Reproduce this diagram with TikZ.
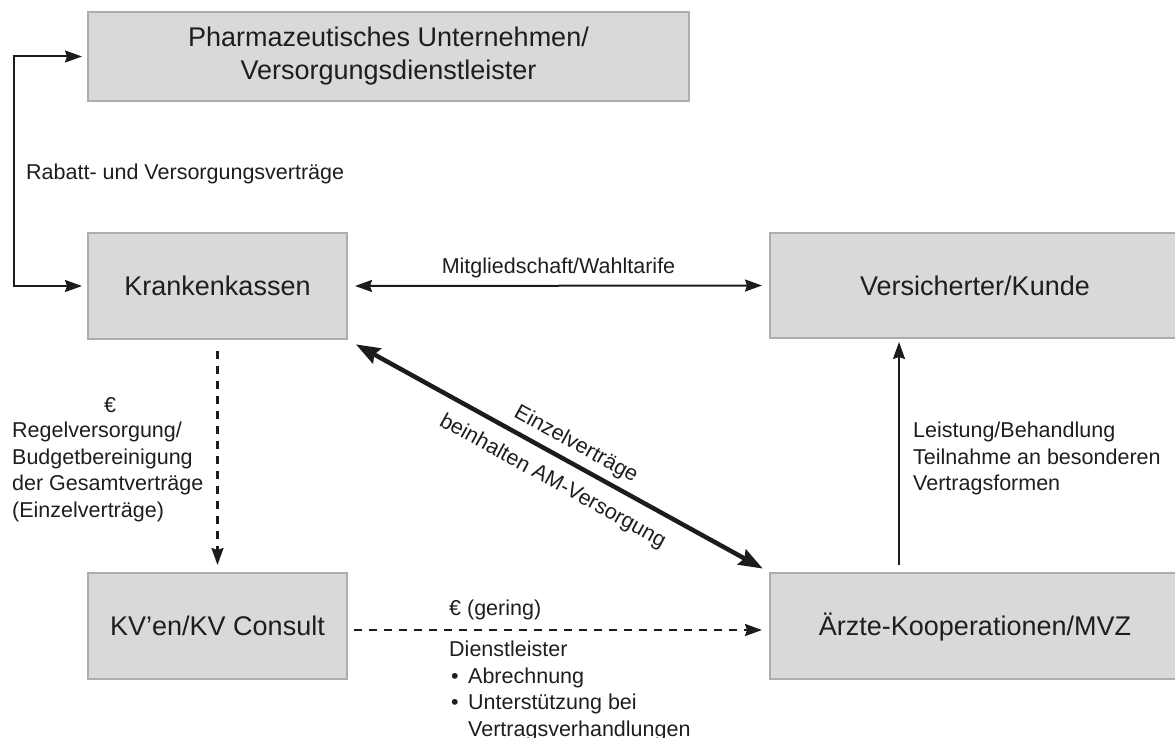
\documentclass[tikz,border=0pt]{standalone}
\usepackage{fontspec}
\setmainfont{Liberation Sans}
\usetikzlibrary{arrows.meta,calc}
\definecolor{ink}{HTML}{1C1C1C}
\definecolor{txt}{HTML}{1E1E1E}
\definecolor{boxfill}{HTML}{D9D9D9}
\definecolor{boxline}{HTML}{ADADAD}
\begin{document}
\begin{tikzpicture}[x=1pt,y=-1pt,
  >={Stealth[length=17pt,width=12pt,inset=2pt]},
  box/.style={draw=boxline, fill=boxfill, line width=2pt, inner sep=0pt,
    text=txt, font=\fontsize{27}{33}\selectfont, align=center},
  oneline/.style={text height=19.5pt, text depth=0pt},
  lbl/.style={inner sep=0pt, text=txt, font=\fontsize{21.5}{26.5}\selectfont},
  link/.style={draw=ink, line width=2pt},
  dashlink/.style={link, line width=2.3pt, dash pattern=on 8pt off 7pt},
  boldlink/.style={draw=ink, line width=4.5pt,
    arrows={Stealth[length=24pt,width=17pt,inset=3pt]-Stealth[length=24pt,width=17pt,inset=3pt]}}]
\useasboundingbox (0,0) rectangle (1175,738);
\clip (0,0) rectangle (1175,738);

% boxes
\node[box, minimum width=601pt, minimum height=89pt] (pharma) at (388.5,56.5)
  {Pharmazeutisches Unternehmen/\\Versorgungsdienstleister};
\node[box, oneline, minimum width=259pt, minimum height=106pt] (kk) at (217.5,286) {Krankenkassen};
\node[box, oneline, minimum width=410pt, minimum height=105pt] (vk) at (975,285.5) {Versicherter/Kunde};
\node[box, oneline, minimum width=259pt, minimum height=106pt] (kv) at (217.5,626) {KV’en/KV Consult};
\node[box, oneline, minimum width=410pt, minimum height=106pt] (ae) at (975,626) {Ärzte-Kooperationen/MVZ};

% loop between the pharma box and the Krankenkassen
\coordinate (loopx) at (14,0);
\draw[link, <->, shorten <=5pt, shorten >=5pt]
  (pharma.west) -- (pharma.west -| loopx) -- (kk.west -| loopx) -- (kk.west);
\node[lbl, anchor=west] (rabatt) at (26,174) {Rabatt- und Versorgungsverträge};

% membership
\draw[link, <->, shorten <=7pt, shorten >=7pt] (kk.east) -- (vk.west);
\node[lbl, anchor=base] (mitglied) at ($(kk.east)!0.5!(vk.west)+(0,-12)$) {Mitgliedschaft/Wahltarife};

% money flow to the KVs
\draw[dashlink, ->, shorten <=11pt, shorten >=7pt] (kk.south) -- (kv.north);
\node[lbl, anchor=base] (euroA) at (110,412) {€};
\node[lbl, align=left, anchor=north west] (regel) at (12,422)
  {Regelversorgung/\\Budgetbereinigung\\der Gesamtverträge\\(Einzelverträge)};

% individual contracts
\draw[boldlink, shorten <=9pt, shorten >=7pt] (kk.south east) -- (ae.north west)
  node[lbl, sloped, pos=0.52, above=6pt] (einzel) {Einzelverträge}
  node[lbl, sloped, pos=0.515, below=13pt] (beinh) {beinhalten AM-Versorgung};

% KV services
\draw[dashlink, ->, shorten <=6pt, shorten >=7pt] ([yshift=-4pt]kv.east) -- ([yshift=-4pt]ae.west);
\node[lbl, anchor=base west] (euroB) at (449,615) {€ (gering)};
\node[lbl, align=left, anchor=north west] (dienst) at (449,641)
  {Dienstleister\\
   \makebox[19pt][l]{\hspace{2pt}•}Abrechnung\\
   \makebox[19pt][l]{\hspace{2pt}•}Unterstützung bei\\
   \hspace{19pt}Vertragsverhandlungen};

% services to the insured
\draw[link, ->, shorten <=7pt, shorten >=3pt] ([xshift=130pt]ae.north west) -- ([xshift=130pt]vk.south west);
\node[lbl, align=left, anchor=north west] (leistung) at (913,422)
  {Leistung/Behandlung\\Teilnahme an besonderen\\Vertragsformen};
\end{tikzpicture}
\end{document}
